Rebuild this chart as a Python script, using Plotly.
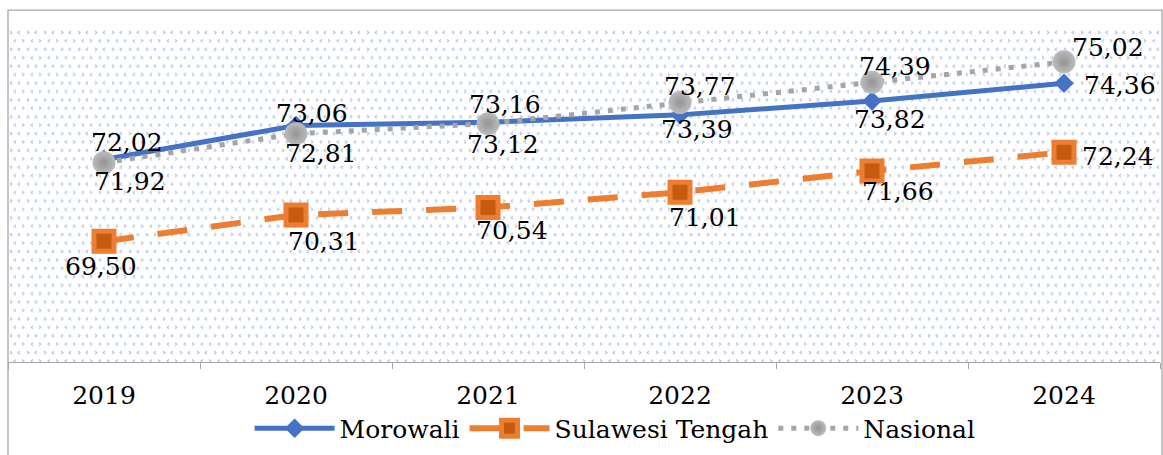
import base64
import plotly.graph_objects as go

# Data
years = ["2019", "2020", "2021", "2022", "2023", "2024"]
morowali = [72.02, 73.06, 73.16, 73.39, 73.82, 74.36]
sulteng = [69.50, 70.31, 70.54, 71.01, 71.66, 72.24]
nasional = [71.92, 72.81, 73.12, 73.77, 74.39, 75.02]

# Label offsets in pixels (dx right, dy down) for each series' value labels
label_offsets = {
    "Morowali": [(23, -17), (16, -12), (17, -18), (17, 15), (18, 19), (56, 2)],
    "Sulawesi Tengah": [(-3, 25), (28, 26), (24, 23), (25, 25), (26, 20), (54, 4)],
    "Nasional": [(26, 19), (25, 20), (15, 21), (20, -16), (23, -16), (44, -14)],
}

FONT = "DejaVu Serif"
W, H = 1163, 455
M_L, M_R, M_T, M_B = 8, 3, 30, 90
PW, PH = W - M_L - M_R, H - M_T - M_B

# Patterned plot background (small light-blue chevrons)
stroke = 'fill="none" stroke="#b4c5e8" stroke-width="1.2"'
tile = (
    f'<path d="M2 1 L4 2.5 L2 4" {stroke}/>'
    f'<path d="M12 1 L10 2.5 L12 4" {stroke}/>'
    f'<path d="M8 9.5 L6 11 L8 12.5" {stroke}/>'
    f'<path d="M14 9.5 L16 11 L14 12.5" {stroke}/>'
)
svg = (
    f'<svg xmlns="http://www.w3.org/2000/svg" width="{PW}" height="{PH}">'
    '<defs><pattern id="p" width="17" height="17" patternUnits="userSpaceOnUse">'
    f'{tile}</pattern></defs>'
    f'<rect x="0" y="0" width="{PW}" height="{PH}" fill="url(#p)"/></svg>'
)
bg_src = "data:image/svg+xml;base64," + base64.b64encode(svg.encode()).decode()

fig = go.Figure()

fig.add_trace(go.Scatter(
    x=years, y=morowali, name="Morowali", mode="lines+markers",
    line=dict(color="#4472C4", width=5),
    marker=dict(symbol="diamond", size=15, color="#4472C4"),
))
fig.add_trace(go.Scatter(
    x=years, y=sulteng, name="Sulawesi Tengah", mode="lines+markers",
    line=dict(color="#ED7D31", width=6, dash="30px,24px"),
    marker=dict(symbol="square", size=20, color="#C55A11",
                line=dict(color="#ED7D31", width=5)),
))
fig.add_trace(go.Scatter(
    x=years, y=nasional, name="Nasional", mode="lines+markers",
    line=dict(color="#A5A5A5", width=5, dash="5px,8px"),
    marker=dict(symbol="circle", size=23, color="#bcbcbc",
                gradient=dict(type="radial", color="#939393")),
))

series = [("Morowali", morowali), ("Sulawesi Tengah", sulteng), ("Nasional", nasional)]
annotations = []
for name, vals in series:
    for i, v in enumerate(vals):
        dx, dy = label_offsets[name][i]
        annotations.append(dict(
            x=i, y=v, xref="x", yref="y",
            text=f"{v:.2f}".replace(".", ","),
            showarrow=False, xshift=dx, yshift=-dy,
            font=dict(family=FONT, size=25, color="#000000"),
        ))

fig.update_layout(
    width=W, height=H,
    margin=dict(l=M_L, r=M_R, t=M_T, b=M_B),
    paper_bgcolor="white", plot_bgcolor="white",
    font=dict(family=FONT, size=25, color="#000000"),
    showlegend=True,
    legend=dict(
        orientation="h", x=0.527, xanchor="center", y=-0.2, yanchor="middle",
        font=dict(family=FONT, size=25, color="#000000"),
        itemwidth=80, bgcolor="rgba(0,0,0,0)",
    ),
    xaxis=dict(
        type="category", range=[-0.5, 5.5],
        showline=True, linecolor="#a6a6a6", linewidth=1.3,
        ticks="outside", tickson="boundaries", ticklen=6, tickcolor="#a6a6a6",
        ticklabelstandoff=11,
        showgrid=False, zeroline=False,
        tickfont=dict(family=FONT, size=25, color="#000000"),
        fixedrange=True,
    ),
    yaxis=dict(range=[65.79, 76.0], visible=False, fixedrange=True),
    images=[dict(
        source=bg_src, xref="paper", yref="paper", x=0, y=1,
        sizex=1, sizey=1, sizing="stretch", layer="below",
        xanchor="left", yanchor="top",
    )],
    shapes=[dict(
        type="rect", xref="paper", yref="paper",
        x0=0, x1=(W - 1 - M_L) / PW, y0=-0.5, y1=(PH + M_T - 10) / PH,
        line=dict(color="#a6a6a6", width=1.3), fillcolor="rgba(0,0,0,0)",
        layer="above",
    )],
    annotations=annotations,
)

fig.write_html("out.html")
